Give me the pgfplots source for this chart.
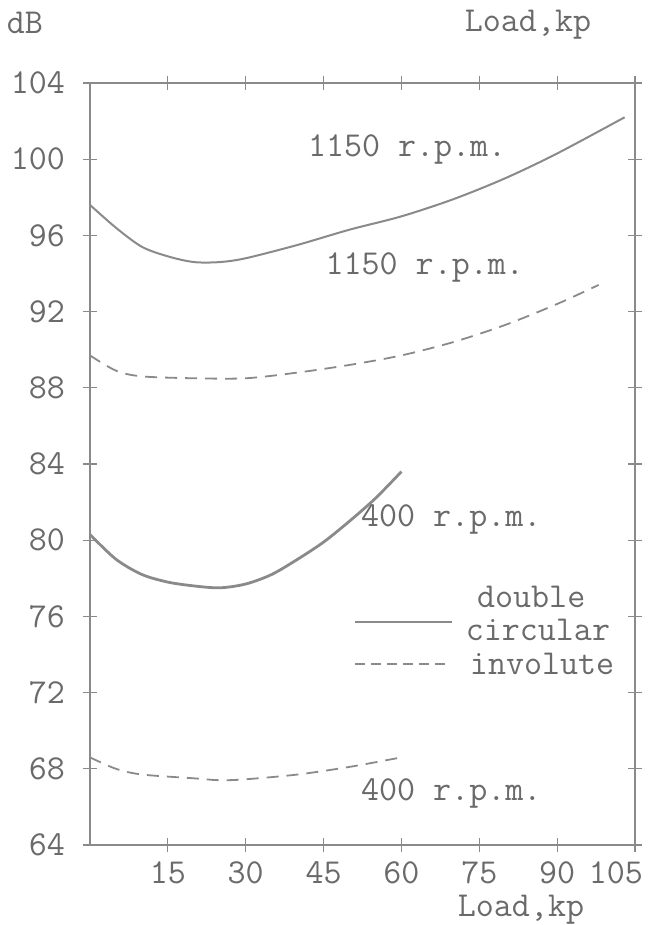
\documentclass[border=0pt]{standalone}
\usepackage{fontspec}
\usepackage{pgfplots}
\pgfplotsset{compat=1.18}
\definecolor{ink}{HTML}{6A6A6A}
\definecolor{pen}{HTML}{8A8A8A}
\begin{document}
\ttfamily\fontsize{17.5}{20}\selectfont
\begin{tikzpicture}
\path[use as bounding box] (-45pt,-40pt) rectangle (279pt,422.5pt);
\begin{axis}[
  at={(0,0)}, anchor=south west,
  width=272.5pt, height=381pt, scale only axis,
  xmin=0, xmax=105, ymin=64, ymax=104,
  xtick={15,30,45,60,75,90,105},
  xticklabels={15,30,45,60,75,90,\makebox[8pt][r]{105}},
  ytick={64,68,72,76,80,84,88,92,96,100,104},
  tick align=center, major tick length=7pt,
  tick style={pen, line width=0.6pt},
  axis line style={pen, line width=0.7pt},
  tick label style={text=ink},
  /pgf/number format/assume math mode=true,
  yticklabel style={xshift=-3pt},
  xticklabel style={yshift=1pt},
  clip=false,
]
% 1150 r.p.m., double circular
\addplot[pen, line width=1pt, smooth] coordinates {
  (0,97.6)(5,96.4)(10,95.4)(15,94.9)(20,94.6)(25,94.6)(30,94.8)(40,95.5)
  (50,96.3)(60,97.0)(70,97.9)(80,99.0)(90,100.3)(103,102.2)};
% 1150 r.p.m., involute
\addplot[pen, line width=0.9pt, smooth, dash pattern=on 6pt off 4pt] coordinates {
  (0,89.7)(5,88.9)(10,88.6)(20,88.5)(30,88.5)(40,88.8)(50,89.2)(60,89.7)
  (70,90.4)(80,91.3)(90,92.4)(98,93.4)};
% 400 r.p.m., double circular
\addplot[pen, line width=1.4pt, smooth] coordinates {
  (0,80.3)(5,79.0)(10,78.2)(15,77.8)(20,77.6)(25,77.5)(30,77.7)(35,78.2)
  (40,79.0)(45,79.9)(50,81.0)(55,82.2)(60,83.6)};
% 400 r.p.m., involute
\addplot[pen, line width=0.9pt, smooth, dash pattern=on 6pt off 4pt] coordinates {
  (0,68.6)(5,68.0)(10,67.7)(20,67.5)(25,67.4)(30,67.45)(40,67.7)(50,68.1)(60,68.6)};
\node[text=ink] at (axis cs:61.1,100.5) {1150 r.p.m.};
\node[text=ink] at (axis cs:64.5,94.3) {1150 r.p.m.};
\node[text=ink] at (axis cs:69.6,81.1) {400 r.p.m.};
\node[text=ink] at (axis cs:69.6,66.7) {400 r.p.m.};
\node[text=ink] at (axis cs:85.0,77.0) {double};
\node[text=ink] at (axis cs:86.3,75.3) {circular};
\node[text=ink] at (axis cs:87.1,73.5) {involute};
\draw[pen, line width=1pt] (axis cs:51.1,75.7) -- (axis cs:69.7,75.7);
\draw[pen, line width=0.9pt, dash pattern=on 5pt off 3pt] (axis cs:51.1,73.5) -- (axis cs:69.4,73.5);
\end{axis}
\node[text=ink] at (-32.5pt,411pt) {dB};
\node[text=ink] at (219pt,410pt) {Load,kp};
\node[text=ink] at (215.5pt,-32.5pt) {Load,kp};
\end{tikzpicture}
\end{document}
